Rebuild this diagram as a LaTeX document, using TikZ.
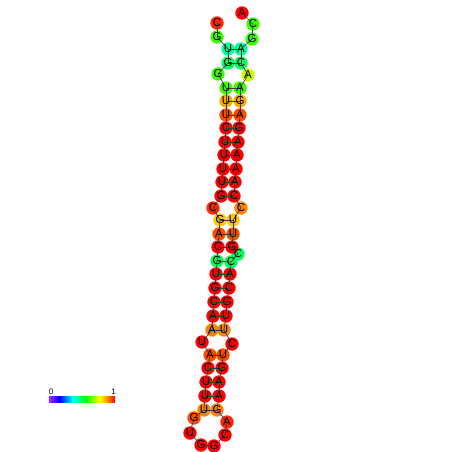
\documentclass[tikz,border=0pt]{standalone}
\usepackage{fontspec}
\setmainfont{Liberation Sans}
\usetikzlibrary{positioning}
\definecolor{cRed}{RGB}{255,0,0}
\definecolor{cRedOr}{RGB}{255,40,0}
\definecolor{cOrRed}{RGB}{255,75,0}
\definecolor{cOrange}{RGB}{255,130,0}
\definecolor{cAmber}{RGB}{255,170,0}
\definecolor{cYellow}{RGB}{255,200,0}
\definecolor{cLime}{RGB}{200,255,0}
\definecolor{cGreen}{RGB}{60,255,0}
\definecolor{cSpring}{RGB}{0,255,90}
\definecolor{cAqua}{RGB}{0,255,150}
\definecolor{cViolet}{RGB}{160,40,255}
\definecolor{cLine}{RGB}{60,60,60}
\pgfdeclarehorizontalshading{rainbowbar}{100bp}{color(0bp)=(cViolet); color(25bp)=(cViolet);
  color(33bp)=(blue); color(43bp)=(cyan); color(53bp)=(green); color(63bp)=(yellow);
  color(70bp)=(orange); color(75bp)=(red); color(100bp)=(red)}

\tikzset{
  base/.style={circle, inner sep=0pt, minimum size=13.4pt},
  letter/.style={inner sep=0pt, font=\fontsize{11.5}{11.5}\selectfont},
  backbone/.style={draw=cLine, line width=0.7pt},
  bpair/.style={draw=cLine, line width=0.7pt},
  barlabel/.style={inner sep=0pt, font=\fontsize{8}{8}\selectfont}
}

\def\seqdata{1/217/23/C/cRedOr, 2/217/37/G/cGreen, 3/228/49/U/cAqua, 4/228/63/G/cSpring,
  5/218/74/G/cGreen, 6/226/88/U/cGreen, 7/226/101/U/cAmber, 8/226/115/U/cOrRed,
  9/226/128/C/cRed, 10/225/142/U/cRed, 11/224/155/U/cRed, 12/223/169/U/cRed,
  13/222/182/U/cRed, 14/221/196/G/cRed, 15/213/208/C/cRedOr, 16/220/220/G/cYellow,
  17/219/234/A/cOrRed, 18/218/247/C/cRed, 19/217/261/G/cSpring, 20/216/274/U/cRed,
  21/215/288/G/cRed, 22/214/302/C/cRed, 23/213/316/A/cRed, 24/212/330/A/cOrange,
  25/202/342/U/cRed, 26/210/355/A/cOrRed, 27/208/368/C/cRed, 28/206/382/U/cRed,
  29/205/396/U/cRed, 30/204/410/U/cOrange, 31/194/418/G/cOrRed, 32/190/433/U/cRed,
  33/201/445/G/cRed, 34/214/446/G/cRed, 35/225/435/C/cRed, 36/227/422/A/cRedOr,
  37/217/410/G/cOrange, 38/219/396/A/cRed, 39/219/382/A/cRed, 40/222/368/G/cRed,
  41/223/355/U/cOrRed, 42/232/344/C/cRed, 43/224/330/U/cOrange, 44/226/316/U/cRed,
  45/227/302/G/cRed, 46/229/288/C/cRed, 47/230/274/A/cRed, 48/231/262/C/cSpring,
  49/238/254/C/cSpring, 50/232/247/G/cRed, 51/233/234/U/cOrRed, 52/233/220/U/cYellow,
  53/241/208/C/cOrange, 54/234/196/C/cRed, 55/235/182/A/cRed, 56/236/169/A/cRed,
  57/237/155/A/cRed, 58/238/142/A/cRed, 59/239/128/G/cRed, 60/240/115/A/cOrRed,
  61/240/101/G/cAmber, 62/240/88/A/cGreen, 63/248/75/A/cLime, 64/241/63/C/cSpring,
  65/241/49/A/cAqua, 66/252/39/G/cGreen, 67/253/24/C/cGreen, 68/242/13/A/cRed}

\begin{document}
\begin{tikzpicture}[x=1pt, y=-1pt]
  \useasboundingbox (0,0) rectangle (452,452);

  \foreach \i/\x/\y/\b/\c in \seqdata
    \node[base, fill=\c] (n\i) at (\x,\y) {};

  \foreach \i [evaluate=\i as \j using int(\i+1)] in {1,...,67}
    \draw[backbone] (n\i.center) -- (n\j.center);

  \foreach \a/\b in {3/65, 4/64, 6/62, 7/61, 8/60, 9/59, 10/58, 11/57, 12/56, 13/55,
    14/54, 16/52, 17/51, 18/50, 19/48, 20/47, 21/46, 22/45, 23/44, 24/43,
    26/41, 27/40, 28/39, 29/38, 30/37}
    \draw[bpair] (n\a.center) -- (n\b.center);

  \foreach \i/\x/\y/\b/\c in \seqdata
    \node[letter] (l\i) at (n\i.center) {\b};

  \shade[shading=rainbowbar] (49,396) rectangle (115,402);
  \node[barlabel] (lo) at (51,392) {0};
  \node[barlabel] (hi) at (113.5,392) {1};
\end{tikzpicture}
\end{document}
